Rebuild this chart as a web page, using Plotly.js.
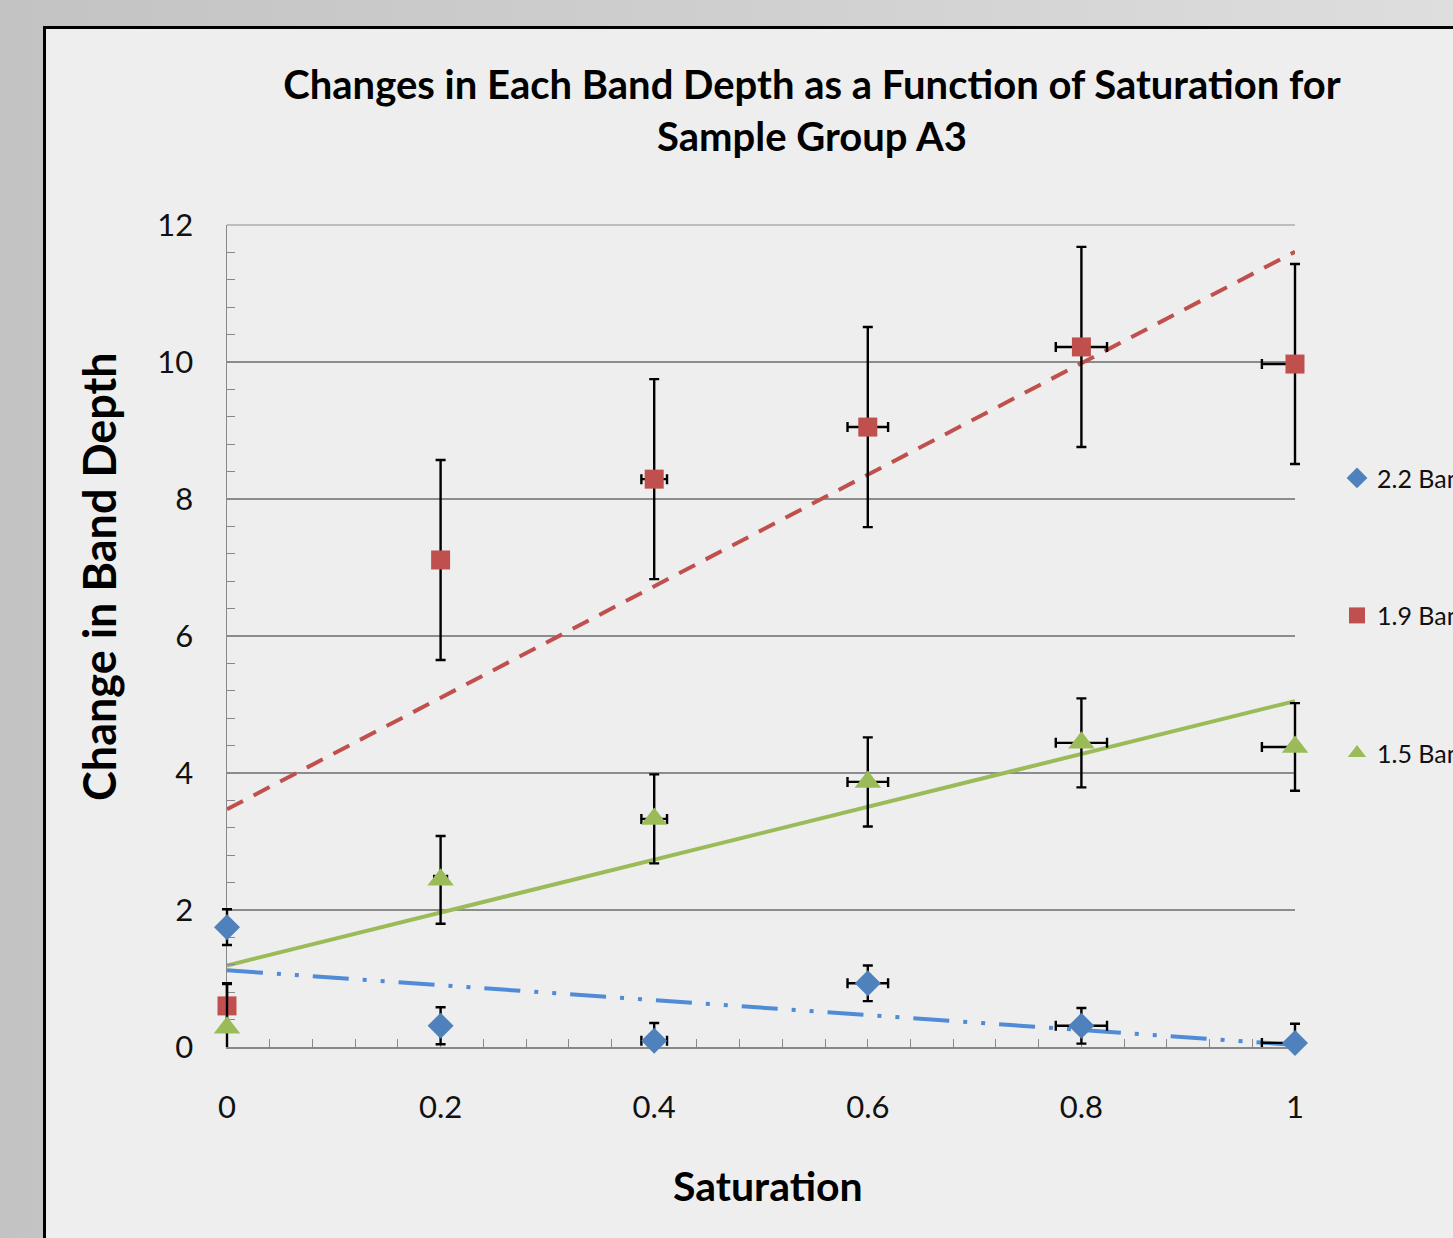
<!DOCTYPE html>
<html>
<head>
<meta charset="utf-8">
<script src="https://cdn.plot.ly/plotly-3.0.1.min.js"></script>
<style>
  html, body { margin: 0; padding: 0; width: 1453px; height: 1238px; overflow: hidden;
    background: linear-gradient(to right, #c3c3c3 0%, #cfcfcf 50%, #dedede 100%); }
  #chart { position: absolute; left: 43px; top: 26px; width: 1407px; height: 1209px;
    border-left: 3px solid #000; border-top: 3px solid #000; background: #eeeeee; }
</style>
</head>
<body>
<div id="chart"></div>
<script>
// ---- data ----
const saturation    = [0, 0.2, 0.4, 0.6, 0.8, 1];
const saturationErr = [0, 0.006, 0.012, 0.019, 0.024, 0.031];

const band22    = [1.75, 0.31, 0.09, 0.93, 0.31, 0.06];
const band22Err = [0.26, 0.27, 0.26, 0.26, 0.26, 0.28];

const band19    = [0.60, 7.11, 8.29, 9.05, 10.22, 9.97];
const band19Err = [0.33, 1.46, 1.46, 1.46, 1.46, 1.46];

const band15    = [0.28, 2.44, 3.33, 3.87, 4.44, 4.38];
const band15Err = [0.64, 0.64, 0.65, 0.65, 0.65, 0.64];

// linear trendlines (end points at saturation 0 and 1)
const fitX  = [0, 1];
const fit22 = [1.12, 0.03];
const fit19 = [3.47, 11.61];
const fit15 = [1.19, 5.05];

const seriesNames = ['2.2 Band', '1.9 Band', '1.5 Band'];
const yTickVals = [0, 2, 4, 6, 8, 10, 12];
const xTickVals = [0, 0.2, 0.4, 0.6, 0.8, 1];
const X_MAX = 1, Y_MAX = 12;

// Excel clips horizontal error bars at the axis maximum
const saturationErrPlus = saturationErr.map((e, i) => Math.min(e, X_MAX - saturation[i]));

const FONT = 'Lato, "Open Sans", sans-serif';
const BLUE = '#4F81BD', RED = '#C0504D', GREEN = '#9BBB59', BLUE_LINE = '#4F8BD6';

// geometry: plot area 1068 px wide; markers/error bars drawn on an overlay x-axis whose
// clip region is PAD px wider on each side, mapped so data coordinates coincide.
const PLOT_W = 1068, PAD = 12;
const PAPER_W = PLOT_W + 2 * PAD;
const padFrac = PAD / PLOT_W;

function errY(arr) { return { type: 'data', array: arr, visible: true, color: '#000', thickness: 2.4, width: 5 }; }
function errX() { return { type: 'data', symmetric: false, array: saturationErrPlus, arrayminus: saturationErr,
  visible: true, color: '#000', thickness: 2.4, width: 5 }; }

const traces = [
  { x: fitX, y: fit22, type: 'scatter', mode: 'lines', showlegend: false, xaxis: 'x', yaxis: 'y',
    line: { color: BLUE_LINE, width: 4, dash: '36px,14px,4px,14px,4px,14px' } },
  { x: fitX, y: fit19, type: 'scatter', mode: 'lines', showlegend: false, xaxis: 'x', yaxis: 'y',
    line: { color: RED, width: 4, dash: '18px,12px' } },
  { x: fitX, y: fit15, type: 'scatter', mode: 'lines', showlegend: false, xaxis: 'x', yaxis: 'y',
    line: { color: GREEN, width: 4 } },
  { x: saturation, y: band22, name: seriesNames[0], type: 'scatter', mode: 'markers',
    xaxis: 'x2', yaxis: 'y2', legendgroup: 'a', cliponaxis: false,
    marker: { symbol: 'diamond', size: 20, color: BLUE },
    error_y: errY(band22Err), error_x: errX() },
  { x: saturation, y: band19, name: seriesNames[1], type: 'scatter', mode: 'markers',
    xaxis: 'x2', yaxis: 'y2', legendgroup: 'b', cliponaxis: false,
    marker: { symbol: 'square', size: 19, color: RED },
    error_y: errY(band19Err), error_x: errX() },
  { x: saturation, y: band15, name: seriesNames[2], type: 'scatter', mode: 'markers',
    xaxis: 'x2', yaxis: 'y2', legendgroup: 'c', cliponaxis: false,
    marker: { symbol: 'triangle-up', size: 23, color: GREEN },
    error_y: errY(band15Err), error_x: errX() }
];

const px = p => (p - 215) / PAPER_W;          // page x -> paper x
const py = p => (1047 - p) / 822;              // page y -> paper y

const layout = {
  width: 1407, height: 1209,
  margin: { l: 181 - PAD, r: 158 - PAD, t: 196, b: 191, autoexpand: false },
  paper_bgcolor: '#eeeeee', plot_bgcolor: 'rgba(0,0,0,0)',
  font: { family: FONT, color: '#111' },
  hovermode: false,
  title: {
    text: 'Changes in Each Band Depth as a Function of Saturation for<br>Sample Group A3',
    font: { family: FONT, size: 40, weight: 'bold', color: '#000' },
    xref: 'paper', x: px(812), xanchor: 'center',
    yref: 'container', y: 0.942, yanchor: 'middle'
  },
  xaxis: {
    domain: [PAD / PAPER_W, 1 - PAD / PAPER_W], anchor: 'y',
    range: [0, X_MAX], tickvals: xTickVals, ticktext: xTickVals.map(String),
    showgrid: false, zeroline: false, showline: true, linecolor: '#888', linewidth: 1.5,
    ticks: 'inside', ticklen: 8, tickcolor: '#888', tickwidth: 1,
    minor: { dtick: 0.04, ticks: 'inside', ticklen: 8, tickcolor: '#888', tickwidth: 1, showgrid: false },
    tickfont: { family: FONT, size: 31, color: '#111' }, ticklabelstandoff: 32
  },
  yaxis: {
    domain: [0, 1], anchor: 'x',
    range: [0, Y_MAX], tickvals: yTickVals,
    showgrid: true, gridcolor: '#8c8c8c', gridwidth: 1.2,
    zeroline: false, showline: true, linecolor: '#888', linewidth: 1.5,
    ticks: 'inside', ticklen: 8, tickcolor: '#888', tickwidth: 1,
    minor: { dtick: 0.4, ticks: 'inside', ticklen: 8, tickcolor: '#888', tickwidth: 1, showgrid: false },
    tickfont: { family: FONT, size: 31, color: '#111' }, ticklabelstandoff: 26
  },
  xaxis2: {
    domain: [0, 1], anchor: 'y2',
    range: [-padFrac * X_MAX, X_MAX * (1 + padFrac)], visible: false, showgrid: false, zeroline: false
  },
  yaxis2: {
    domain: [0, 1], anchor: 'x2',
    range: [0, Y_MAX], visible: false, showgrid: false, zeroline: false
  },
  shapes: [
    { type: 'line', xref: 'paper', yref: 'paper', x0: px(227), x1: px(1295), y0: 1, y1: 1, layer: 'below',
      line: { color: '#8c8c8c', width: 1.2 } }
  ],
  legend: {
    x: px(1337), xanchor: 'left', y: 0.72, yanchor: 'top',
    bgcolor: 'rgba(0,0,0,0)', borderwidth: 0,
    font: { family: FONT, size: 25, color: '#111' },
    traceorder: 'grouped', tracegroupgap: 102
  },
  annotations: [
    { text: '<b>Change in Band Depth</b>', xref: 'paper', yref: 'paper',
      x: px(99), y: py(577), xanchor: 'center', yanchor: 'middle', textangle: -90,
      showarrow: false, font: { family: FONT, size: 45, color: '#000' } },
    { text: '<b>Saturation</b>', xref: 'paper', yref: 'paper',
      x: px(768), y: py(1185), xanchor: 'center', yanchor: 'middle',
      showarrow: false, font: { family: FONT, size: 41, color: '#000' } }
  ]
};

Plotly.newPlot('chart', traces, layout, { displayModeBar: false, staticPlot: true });
</script>
</body>
</html>
